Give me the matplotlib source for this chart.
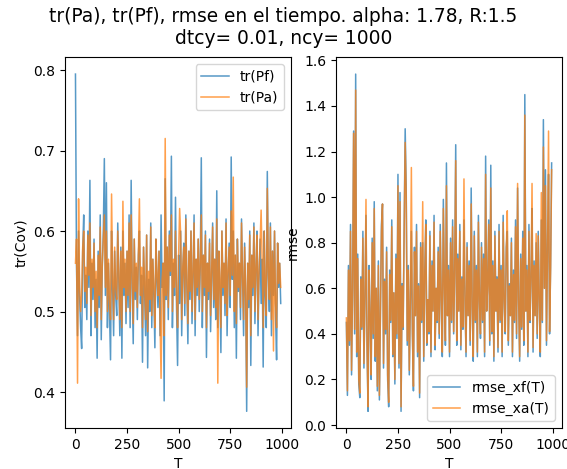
import numpy as np
import matplotlib
matplotlib.use('Agg')
import matplotlib.pyplot as plt

# tiempos (cada 5 ciclos)
T = np.arange(0, 1000, 5)

# tr(Pf) y tr(Pa), en milesimas
trPf_m = [795, 560, 470, 600, 520, 480, 454, 575, 620, 505,
          545, 490, 600, 530, 663, 470, 560, 515, 590, 480,
          540, 442, 575, 505, 620, 465, 555, 600, 690, 520,
          660, 480, 560, 500, 440, 600, 530, 470, 575, 520,
          495, 610, 540, 470, 580, 442, 600, 520, 560, 485,
          575, 505, 620, 480, 663, 530, 460, 590, 515, 555,
          490, 570, 600, 510, 545, 437, 580, 525, 470, 595,
          430, 540, 500, 610, 480, 565, 520, 455, 590, 540,
          505, 575, 470, 620, 530, 560, 389, 665, 515, 580,
          490, 600, 545, 693, 480, 560, 520, 642, 505, 433,
          570, 510, 600, 470, 550, 585, 495, 620, 530, 460,
          575, 515, 600, 485, 545, 620, 470, 565, 520, 590,
          500, 555, 691, 480, 570, 520, 600, 443, 560, 515,
          590, 475, 545, 610, 505, 565, 490, 650, 480, 575,
          530, 449, 600, 520, 560, 495, 615, 470, 545, 585,
          505, 692, 540, 600, 480, 570, 442, 590, 525, 560,
          490, 615, 540, 470, 585, 520, 376, 560, 505, 600,
          433, 570, 520, 610, 485, 555, 600, 470, 545, 590,
          510, 565, 431, 600, 520, 480, 674, 545, 500, 610,
          470, 575, 520, 600, 495, 440, 585, 530, 560, 510]

trPa_m = [560, 590, 411, 640, 530, 500, 520, 580, 600, 525,
          555, 510, 595, 545, 610, 495, 565, 530, 585, 500,
          550, 480, 570, 520, 605, 490, 560, 590, 620, 530,
          600, 500, 565, 515, 490, 646, 540, 490, 580, 530,
          515, 600, 550, 490, 575, 480, 637, 530, 565, 500,
          575, 520, 610, 500, 620, 545, 485, 590, 525, 560,
          505, 570, 640, 520, 555, 480, 580, 535, 490, 595,
          475, 550, 515, 605, 495, 565, 530, 480, 590, 545,
          520, 575, 490, 417, 540, 560, 470, 715, 520, 580,
          505, 595, 550, 620, 500, 565, 530, 600, 520, 480,
          570, 628, 595, 490, 555, 580, 510, 615, 540, 485,
          575, 525, 600, 500, 550, 610, 490, 565, 530, 590,
          515, 560, 620, 500, 570, 530, 595, 480, 560, 525,
          585, 495, 550, 605, 515, 565, 505, 615, 411, 575,
          540, 480, 600, 530, 560, 510, 610, 495, 550, 580,
          520, 625, 545, 667, 500, 570, 485, 590, 530, 560,
          505, 610, 545, 490, 580, 530, 406, 560, 515, 595,
          470, 570, 530, 605, 500, 555, 595, 490, 550, 585,
          626, 565, 480, 600, 530, 495, 653, 550, 515, 605,
          490, 575, 451, 600, 510, 480, 585, 535, 560, 530]

# rmse, en centesimas
rmse_xf_c = [45, 13, 70, 35, 88, 22, 60, 129, 40, 154,
             30, 75, 18, 12, 65, 42, 85, 25, 55, 92,
             35, 6, 70, 48, 20, 82, 38, 98, 28, 60,
             15, 72, 11, 50, 88, 97, 25, 64, 40, 78,
             20, 8, 68, 45, 90, 30, 58, 18, 75, 38,
             110, 25, 102, 6, 62, 42, 85, 130, 104, 35,
             70, 22, 55, 85, 40, 15, 78, 48, 88, 30,
             62, 12, 80, 45, 80, 28, 68, 90, 35, 55,
             40, 85, 30, 72, 50, 92, 33, 60, 45, 78,
             38, 88, 55, 30, 99, 62, 35, 115, 48, 70,
             30, 82, 45, 90, 40, 68, 123, 35, 75, 50,
             88, 33, 65, 42, 90, 55, 30, 80, 48, 72,
             35, 104, 52, 28, 85, 45, 70, 30, 92, 55,
             38, 80, 45, 75, 30, 118, 50, 62, 90, 35,
             114, 40, 72, 28, 85, 50, 65, 32, 88, 45,
             70, 30, 92, 55, 40, 78, 85, 35, 62, 48,
             82, 30, 68, 45, 90, 38, 104, 55, 28, 75,
             42, 85, 35, 145, 50, 70, 30, 88, 45, 65,
             95, 32, 72, 48, 80, 38, 85, 55, 30, 90,
             45, 134, 60, 112, 35, 78, 110, 40, 70, 115]

rmse_xa_c = [47, 15, 68, 37, 85, 24, 60, 128, 42, 147,
             32, 73, 20, 14, 64, 43, 82, 27, 56, 99,
             36, 8, 68, 48, 22, 80, 40, 95, 30, 60,
             17, 70, 13, 50, 85, 97, 27, 63, 42, 76,
             22, 10, 66, 46, 87, 31, 58, 20, 73, 40,
             105, 27, 98, 8, 61, 43, 83, 124, 100, 37,
             68, 24, 55, 113, 41, 17, 76, 48, 85, 32,
             61, 14, 78, 46, 98, 30, 66, 88, 36, 55,
             41, 83, 32, 70, 50, 89, 35, 60, 46, 76,
             40, 85, 55, 32, 95, 61, 37, 105, 48, 68,
             32, 80, 46, 87, 41, 67, 116, 37, 73, 50,
             85, 35, 64, 43, 108, 55, 32, 78, 48, 70,
             37, 97, 52, 30, 83, 46, 68, 32, 89, 55,
             40, 78, 46, 73, 32, 110, 50, 61, 88, 37,
             104, 41, 70, 30, 83, 50, 64, 34, 85, 46,
             68, 32, 89, 55, 41, 76, 94, 37, 61, 48,
             80, 32, 66, 46, 87, 40, 106, 55, 30, 73,
             43, 82, 37, 136, 50, 68, 32, 85, 46, 64,
             106, 34, 70, 48, 84, 40, 83, 55, 32, 102,
             46, 122, 60, 105, 37, 76, 129, 41, 68, 112]

trPf = np.array(trPf_m) / 1000.0
trPa = np.array(trPa_m) / 1000.0
rmse_xf = np.array(rmse_xf_c) / 100.0
rmse_xa = np.array(rmse_xa_c) / 100.0

alpha, R, dtcy, ncy = 1.78, 1.5, 0.01, 1000

fig, (ax1, ax2) = plt.subplots(1, 2, figsize=(5.67, 4.69), dpi=100)
fig.suptitle('tr(Pa), tr(Pf), rmse en el tiempo. alpha: ' + str(alpha) + ', R:' + str(R)
             + '\ndtcy= ' + str(dtcy) + ', ncy= ' + str(ncy), fontsize=13.4, y=0.985)

ax1.plot(T, trPf, lw=1.1, alpha=0.75, label='tr(Pf)')
ax1.plot(T, trPa, lw=1.1, alpha=0.75, label='tr(Pa)')
ax1.set_xlabel('T')
ax1.set_ylabel('tr(Cov)')
ax1.legend(loc='upper right')

ax2.plot(T, rmse_xf, lw=1.1, alpha=0.75, label='rmse_xf(T)')
ax2.plot(T, rmse_xa, lw=1.1, alpha=0.75, label='rmse_xa(T)')
ax2.set_xlabel('T')
ax2.set_ylabel('rmse', labelpad=3)
ax2.legend(loc='lower right')

for ax in (ax1, ax2):
    ax.set_xticks([0, 250, 500, 750, 1000])

fig.subplots_adjust(left=0.115, right=0.991, bottom=0.087, top=0.878, wspace=0.2)
fig.savefig('out.png', dpi=100)
